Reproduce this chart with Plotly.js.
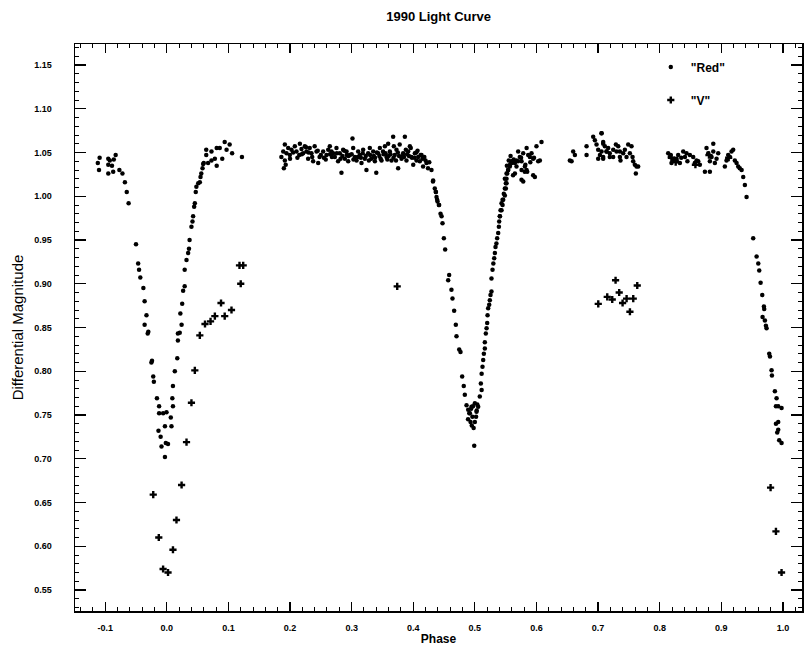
<!DOCTYPE html>
<html>
<head>
<meta charset="utf-8">
<script src="https://cdn.plot.ly/plotly-3.0.1.min.js"></script>
<style>html,body{margin:0;padding:0;background:#fff;}#chart{width:807px;height:649px;}</style>
</head>
<body>
<div id="chart"></div>
<script>
// "Red" filter: phase and differential magnitude
var redPhase = [
-0.112,-0.109,-0.110,-0.095,-0.0925,-0.086,-0.083,-0.095,-0.089,-0.095,-0.087,-0.077,-0.072,-0.068,-0.065,-0.062,
-0.050,-0.0465,-0.045,-0.043,-0.038,-0.036,-0.033,-0.036,-0.031,-0.030,-0.024,-0.025,-0.022,-0.021,-0.016,-0.0125,-0.0125,
-0.0135,-0.010,-0.0086,-0.003,-0.0016,0.002,-0.003,0.0076,-0.006,-0.0005,0.0065,0.010,0.009,0.010,0.013,0.017,0.018,
0.018,0.021,0.024,0.022,0.025,0.0265,0.029,0.029,0.032,0.0346,0.036,0.037,0.040,0.0417,0.0427,0.0444,0.0455,0.047,0.048,
0.051,0.0536,0.0547,0.056,0.058,0.059,0.060,0.064,0.064,0.0725,0.081,0.086,0.094,0.102,0.106,0.097,0.090,0.078,0.081,
0.0725,0.067,0.122,
0.1916,0.197,0.189,0.1943,0.1997,0.1916,0.190,0.2024,0.2078,0.2105,0.216,0.2186,0.2213,0.224,0.2267,0.2294,0.232,0.2348,
0.2375,0.240,0.243,0.2457,0.248,0.2538,0.2592,0.2646,0.2673,0.270,0.2727,0.2754,0.278,0.2808,0.2835,0.2862,0.289,0.2917,
0.2944,0.297,0.3014,0.3025,0.3052,0.308,0.3106,0.3133,0.316,0.3187,0.3214,0.324,0.3268,0.3295,0.332,0.335,0.3377,0.340,
0.343,0.3458,0.3485,0.351,0.354,0.3566,0.3593,0.362,0.3647,0.3674,0.3685,0.370,0.3728,0.3755,0.378,0.381,0.3836,0.3864,
0.389,0.3918,0.3945,0.397,0.400,0.4026,0.4053,0.408,0.4107,0.4134,0.416,0.4215,0.424,0.4296,0.432,0.435,0.4367,0.4378,
0.4394,0.4416,
0.285,0.300,0.315,0.330,0.345,0.360,0.375,0.390,0.405,0.415,0.200,0.215,0.230,0.255,0.265,0.292,0.338,0.352,0.383,0.398,
0.186,0.193,0.205,0.212,0.219,0.226,0.236,0.245,0.250,0.258,0.262,0.268,0.276,0.282,0.288,0.295,0.303,0.310,0.318,0.323,
0.328,0.336,0.341,0.347,0.355,0.358,0.363,0.368,0.372,0.377,0.385,0.388,0.393,0.396,0.402,0.407,0.412,0.418,0.420,0.426,
0.4323,0.4367,0.4388,0.442,0.4443,0.446,0.4475,0.4497,0.4518,0.4583,0.4567,0.462,0.4637,0.4664,0.4691,0.4702,0.4746,
0.4767,0.4794,0.482,0.4837,0.4865,0.4892,0.4919,
0.489,0.491,0.493,0.495,0.496,0.498,0.499,0.500,0.502,0.503,0.497,0.494,0.504,
0.4946,0.500,0.5054,0.5027,0.508,0.511,0.5097,0.511,0.5124,0.5135,0.5146,0.5162,0.5162,0.5178,0.519,0.520,0.5206,0.5216,
0.5233,0.5243,0.5254,0.527,0.527,0.5287,0.530,0.5314,0.5325,0.5335,0.535,0.5362,0.5379,0.539,0.5395,0.5406,0.5417,0.5433,
0.545,0.547,0.5487,0.5503,0.5514,0.5525,0.554,0.557,0.5595,0.562,0.5676,0.5757,0.581,0.584,0.5947,
0.5406,0.5433,0.545,0.546,0.5487,0.5503,0.5514,0.5487,0.5514,0.554,0.5568,0.5595,0.558,0.565,0.5676,0.5703,0.573,0.5758,
0.5785,0.5812,0.584,0.585,0.5866,0.5893,0.592,0.5947,0.5974,0.600,0.6028,0.6055,0.6082,0.5785,0.565,0.5758,
0.560,0.563,0.570,0.575,0.582,0.590,0.596,0.552,0.555,
0.6542,0.657,0.6596,0.6624,0.6813,0.6813,0.6921,0.6948,0.6975,0.7002,0.703,0.7057,0.7083,0.7002,0.7083,0.7138,0.719,
0.7246,0.730,
0.7056,0.7083,0.711,0.7056,0.7083,0.7137,0.7164,0.719,0.7245,0.7289,0.7327,0.7354,0.7364,0.7408,0.7435,0.7462,0.7489,
0.7516,0.7543,0.756,0.757,0.7597,0.7624,0.7651,0.7613,0.7354,
0.8138,0.8165,0.8192,0.822,0.8274,0.830,0.8328,0.8382,0.841,0.8436,0.849,0.8544,0.857,0.8598,0.8625,0.8652,0.8734,0.876,
0.8788,0.8815,0.8842,0.887,0.887,0.8896,0.8923,0.895,0.8815,0.9058,0.9085,0.9112,0.914,0.9166,0.9193,0.922,0.9248,0.9275,
0.930,0.933,0.9356,0.9383,0.941,
0.818,0.824,0.828,0.835,0.845,
0.9518,0.9573,0.960,0.9616,0.9638,0.9665,0.9692,
0.9697,0.967,0.9708,0.9724,0.9735,0.9778,0.979,0.9816,0.9822,0.987,0.9897,0.9887,0.9924,0.9978,0.9887,0.9924,0.9924,
0.9908,0.994,0.9978
];
var redMag = [
1.038,1.044,1.030,1.043,1.041,1.042,1.047,1.036,1.035,1.026,1.028,1.030,1.026,1.016,1.005,0.992,
0.945,0.923,0.916,0.907,0.895,0.880,0.864,0.853,0.843,0.845,0.812,0.810,0.794,0.788,0.769,0.760,0.752,
0.732,0.725,0.714,0.702,0.718,0.717,0.737,0.737,0.752,0.753,0.747,0.760,0.769,0.783,0.800,0.815,0.835,
0.843,0.844,0.853,0.866,0.877,0.892,0.897,0.916,0.927,0.935,0.940,0.950,0.965,0.971,0.977,0.988,0.992,1.005,1.011,
1.015,1.016,1.022,1.026,1.032,1.037,1.038,1.053,1.047,1.051,1.055,1.055,1.062,1.059,1.049,1.053,1.043,1.043,1.035,
1.041,1.038,1.045,
1.059,1.055,1.051,1.049,1.047,1.041,1.032,1.053,1.057,1.051,1.060,1.054,1.049,1.057,1.051,1.043,1.055,1.049,
1.040,1.057,1.051,1.038,1.045,1.051,1.047,1.057,1.051,1.049,1.045,1.055,1.040,1.049,1.027,1.053,1.043,1.051,
1.040,1.047,1.066,1.055,1.045,1.041,1.051,1.047,1.038,1.053,1.043,1.030,1.049,1.055,1.043,1.051,1.040,1.027,
1.049,1.055,1.041,1.051,1.057,1.045,1.060,1.051,1.041,1.068,1.057,1.047,1.053,1.032,1.059,1.043,1.049,1.068,
1.041,1.051,1.057,1.045,1.036,1.049,1.041,1.045,1.040,1.047,1.034,1.038,1.032,1.030,1.017,1.009,1.005,0.999,
0.994,0.990,
1.046,1.048,1.044,1.047,1.046,1.046,1.050,1.048,1.050,1.043,1.043,1.047,1.050,1.044,1.048,1.047,1.044,1.048,1.046,1.044,
1.045,1.036,1.050,1.044,1.048,1.056,1.045,1.052,1.047,1.042,1.053,1.045,1.049,1.043,1.052,1.046,1.042,1.045,1.049,1.046,
1.041,1.046,1.050,1.043,1.049,1.042,1.048,1.044,1.041,1.046,1.045,1.053,1.046,1.055,1.044,1.052,1.047,1.045,1.041,1.039,
1.018,1.005,0.996,0.990,0.980,0.977,0.969,0.952,0.939,0.910,0.904,0.893,0.883,0.869,0.853,0.840,0.825,
0.822,0.794,0.783,0.773,0.761,0.756,0.752,
0.745,0.752,0.742,0.738,0.748,0.735,0.715,0.742,0.748,0.755,0.760,0.757,0.762,
0.7595,0.7633,0.7595,0.7538,0.771,0.7785,0.786,0.797,0.805,0.813,0.820,0.826,0.833,0.843,0.849,0.855,0.864,0.872,
0.876,0.881,0.887,0.891,0.906,0.916,0.923,0.929,0.935,0.942,0.946,0.952,0.958,0.965,0.971,0.977,0.984,0.992,
0.996,1.003,1.009,1.015,1.020,1.026,1.030,1.036,1.039,1.024,1.034,1.019,1.028,1.030,1.024,
0.977,0.984,0.990,0.996,1.001,1.009,1.015,1.020,1.026,1.030,1.034,1.040,1.046,1.038,1.041,1.051,1.045,1.040,
1.049,1.034,1.055,1.028,1.047,1.045,1.049,1.043,1.022,1.057,1.040,1.041,1.062,1.017,1.026,1.030,
1.038,1.042,1.040,1.044,1.036,1.039,1.044,1.035,1.041,
1.041,1.040,1.051,1.047,1.057,1.047,1.068,1.064,1.059,1.053,1.047,1.072,1.060,1.043,1.043,1.051,1.045,
1.053,1.051,
1.072,1.062,1.057,1.051,1.045,1.051,1.055,1.049,1.045,1.059,1.057,1.051,1.041,1.049,1.053,1.045,1.059,
1.049,1.057,1.045,1.040,1.036,1.034,1.034,1.026,1.045,
1.049,1.045,1.038,1.041,1.043,1.047,1.038,1.051,1.045,1.049,1.047,1.045,1.038,1.041,1.040,1.036,1.028,1.055,
1.049,1.040,1.045,1.051,1.060,1.038,1.043,1.049,1.028,1.034,1.041,1.047,1.045,1.051,1.053,1.041,1.038,1.034,
1.032,1.030,1.022,1.013,0.999,
1.047,1.043,1.040,1.044,1.040,
0.952,0.931,0.923,0.915,0.901,0.887,0.874,
0.871,0.862,0.858,0.852,0.849,0.820,0.817,0.801,0.795,0.777,0.769,0.760,0.760,0.758,0.740,0.742,0.733,
0.730,0.721,0.718
];
// "V" filter
var vPhase = [
-0.022,-0.013,-0.006,0.002,0.010,0.0157,0.024,0.032,0.040,0.0455,0.0536,0.062,0.071,0.078,0.088,0.094,0.105,
0.120,0.118,0.124,0.374,
0.7003,0.7149,0.723,0.7284,0.7343,0.7398,0.7463,0.7517,0.7571,0.7636,
0.819,0.826,0.858,0.880,0.912,
0.980,0.9887,0.9978
];
var vMag = [
0.659,0.610,0.574,0.570,0.596,0.630,0.670,0.719,0.764,0.801,0.841,0.854,0.857,0.863,0.878,0.863,0.870,
0.900,0.921,0.921,0.897,
0.877,0.885,0.882,0.904,0.890,0.878,0.883,0.868,0.883,0.898,
1.044,1.039,1.036,1.047,1.044,
0.667,0.617,0.570
];
var xTickVals = [-0.1,0.0,0.1,0.2,0.3,0.4,0.5,0.6,0.7,0.8,0.9,1.0];
var xTickText = ["-0.1","0.0","0.1","0.2","0.3","0.4","0.5","0.6","0.7","0.8","0.9","1.0"];
var seriesNames = ['"Red"', '"V"'];

var font = "Liberation Sans, Arial, Helvetica, sans-serif";
var traces = [
  {x: redPhase, y: redMag, type: 'scatter', mode: 'markers', name: seriesNames[0], legendgroup: 'a',
   marker: {color: '#000', size: 4.5, symbol: 'circle', line: {width: 0}}},
  {x: vPhase, y: vMag, type: 'scatter', mode: 'markers', name: seriesNames[1], legendgroup: 'b',
   marker: {color: '#000', size: 6, symbol: 'cross', line: {width: 0}}}
];
var axisCommon = {
  showline: true, linecolor: '#000', linewidth: 1.5, mirror: 'allticks',
  ticks: 'inside', tickcolor: '#000', tickwidth: 1.2,
  showgrid: false, zeroline: false,
  tickfont: {family: font, size: 9, color: '#000', weight: 'bold'}
};
var layout = {
  width: 807, height: 649,
  margin: {l: 75, r: 5, t: 44, b: 38},
  paper_bgcolor: '#fff', plot_bgcolor: '#fff',
  title: {text: '<b>1990 Light Curve</b>', x: 0.5435, xanchor: 'center', y: 0.982, yanchor: 'top',
          font: {family: font, size: 13, color: '#000'}},
  showlegend: true,
  legend: {x: 0.792, xanchor: 'left', y: 0.985, yanchor: 'top', bgcolor: 'rgba(0,0,0,0)',
           traceorder: 'grouped', tracegroupgap: 14, itemwidth: 30,
           font: {family: font, size: 12, color: '#000', weight: 'bold'}},
  xaxis: Object.assign({}, axisCommon, {
    range: [-0.149, 1.031], tickmode: 'array', tickvals: xTickVals, ticktext: xTickText,
    ticklen: 9, ticklabelstandoff: 8,
    minor: {ticks: 'inside', ticklen: 4, dtick: 0.02, tickcolor: '#000', tickwidth: 1},
    title: {text: '<b>Phase</b>', font: {family: font, size: 12, color: '#000'}, standoff: 2}
  }),
  yaxis: Object.assign({}, axisCommon, {
    range: [0.526, 1.174], dtick: 0.05, tick0: 0.55, tickformat: '.2f',
    ticklen: 11, ticklabelstandoff: 20,
    minor: {ticks: 'inside', ticklen: 4, dtick: 0.01, tickcolor: '#000', tickwidth: 1},
    title: {text: 'Differential Magnitude', font: {family: font, size: 15, color: '#000'}, standoff: 7}
  })
};
Plotly.newPlot('chart', traces, layout, {displayModeBar: false, staticPlot: true});
</script>
</body>
</html>
